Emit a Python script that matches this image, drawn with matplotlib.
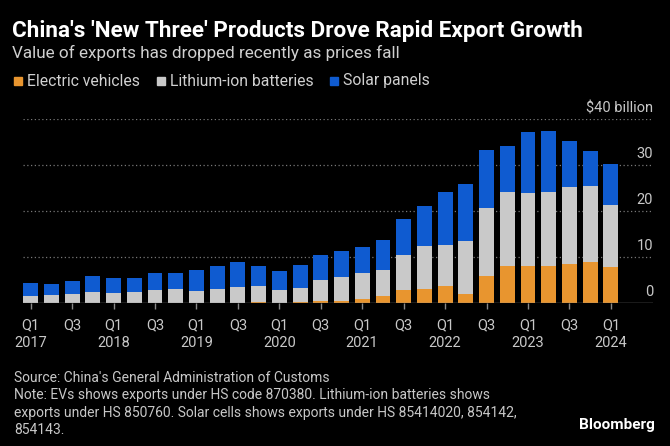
import numpy as np
import matplotlib.pyplot as plt

# quarterly exports, $ billion, Q1 2017 .. Q1 2024
quarters = ['Q1', 'Q2', 'Q3', 'Q4'] * 7 + ['Q1']
years = [y for y in range(2017, 2024) for _ in range(4)] + [2024]

ev = [0.0, 0.0, 0.0, 0.0, 0.0, 0.0, 0.0, 0.0, 0.0, 0.0, 0.05, 0.2, 0.1, 0.2,
      0.45, 0.5, 0.9, 1.5, 2.75, 3.0, 3.7, 2.0, 5.8, 8.1, 8.0, 8.1, 8.55,
      8.9, 7.9]
batt_top = [1.45, 1.67, 2.0, 2.4, 2.2, 2.4, 2.75, 3.0, 2.6, 3.0, 3.5, 3.6,
            2.9, 3.3, 4.9, 5.6, 6.5, 7.2, 10.4, 12.4, 12.7, 13.4, 20.6, 24.2,
            24.0, 24.1, 25.2, 25.4, 21.2]
total = [4.35, 4.06, 4.7, 5.9, 5.5, 5.5, 6.5, 6.5, 7.25, 8.0, 8.85, 8.0, 7.0,
         8.2, 10.4, 11.3, 12.2, 13.8, 18.2, 21.0, 24.1, 25.8, 33.3, 34.1,
         37.2, 37.4, 35.2, 33.0, 30.3]

ev = np.array(ev)
batteries = np.array(batt_top) - ev
solar = np.array(total) - np.array(batt_top)

c_ev = '#e8952f'
c_batt = '#c9c9c9'
c_solar = '#0f5bd0'
txt = '#c8c8c8'

plt.rcParams['font.family'] = ['Roboto', 'DejaVu Sans']

fig = plt.figure(figsize=(6.7, 4.46), dpi=100, facecolor='black')
ax = fig.add_axes([23 / 670, 143 / 446, 630 / 670, 184 / 446])
ax.set_facecolor('black')

x = np.arange(len(ev))
w = 0.72
ax.bar(x, ev, w, color=c_ev)
ax.bar(x, batteries, w, bottom=ev, color=c_batt)
ax.bar(x, solar, w, bottom=ev + batteries, color=c_solar)

ax.set_xlim(-0.37, 30.03)
ax.set_ylim(0, 40)

for v in [10, 20, 30, 40]:
    ax.axhline(v, color='#777777', lw=0.9, ls=(0, (1, 2)), zorder=0)
ax.axhline(0, color='#888888', lw=1.0, zorder=3)

for s in ax.spines.values():
    s.set_visible(False)
ax.set_yticks([])

# y labels sit above the gridlines at the right
for v in [0, 10, 20, 30]:
    ax.text(1.0, v + 0.8, str(v), transform=ax.get_yaxis_transform(),
            ha='right', va='bottom', color=txt, fontsize=10.5)
ax.text(1.0, 40.8, '$40 billion', transform=ax.get_yaxis_transform(),
        ha='right', va='bottom', color=txt, fontsize=10.5)

ticks = x[::2]
labels = []
for i in ticks:
    if quarters[i] == 'Q1':
        labels.append('Q1\n%d' % years[i])
    else:
        labels.append(quarters[i])
ax.set_xticks(ticks)
ax.set_xticklabels(labels, color=txt, fontsize=10.5, linespacing=1.35)
ax.tick_params(axis='x', colors='#888888', length=4, width=1, pad=7,
               labelcolor=txt)

fig.text(12 / 670, 1 - 31 / 446, "China's 'New Three' Products Drove Rapid Export Growth",
         color='white', fontsize=16.2, fontweight='bold', va='center')
fig.text(12 / 670, 1 - 53 / 446, 'Value of exports has dropped recently as prices fall',
         color='#d0d0d0', fontsize=12.3, va='center')

# legend row
ly = 1 - 81 / 446
items = [('Electric vehicles', c_ev), ('Lithium-ion batteries', c_batt),
         ('Solar panels', c_solar)]
xpos = [14, 157, 330]
for (name, col), px in zip(items, xpos):
    fig.patches.append(plt.Rectangle((px / 670, ly - 4 / 446), 8 / 670, 8 / 446,
                                     transform=fig.transFigure, color=col))
    fig.text((px + 13) / 670, ly, name, color='#d0d0d0', fontsize=11.3,
             va='center')

notes = ("Source: China's General Administration of Customs\n"
         "Note: EVs shows exports under HS code 870380. Lithium-ion batteries shows\n"
         "exports under HS 850760. Solar cells shows exports under HS 85414020, 854142,\n"
         "854143.")
fig.text(14 / 670, 1 - 371 / 446, notes, color='#c8c8c8', fontsize=10,
         va='top', linespacing=1.3)
fig.text(655 / 670, 1 - 425 / 446, 'Bloomberg', color='white', fontsize=11,
         fontweight='bold', ha='right', va='center')

fig.savefig('out.png', dpi=100, facecolor='black')
